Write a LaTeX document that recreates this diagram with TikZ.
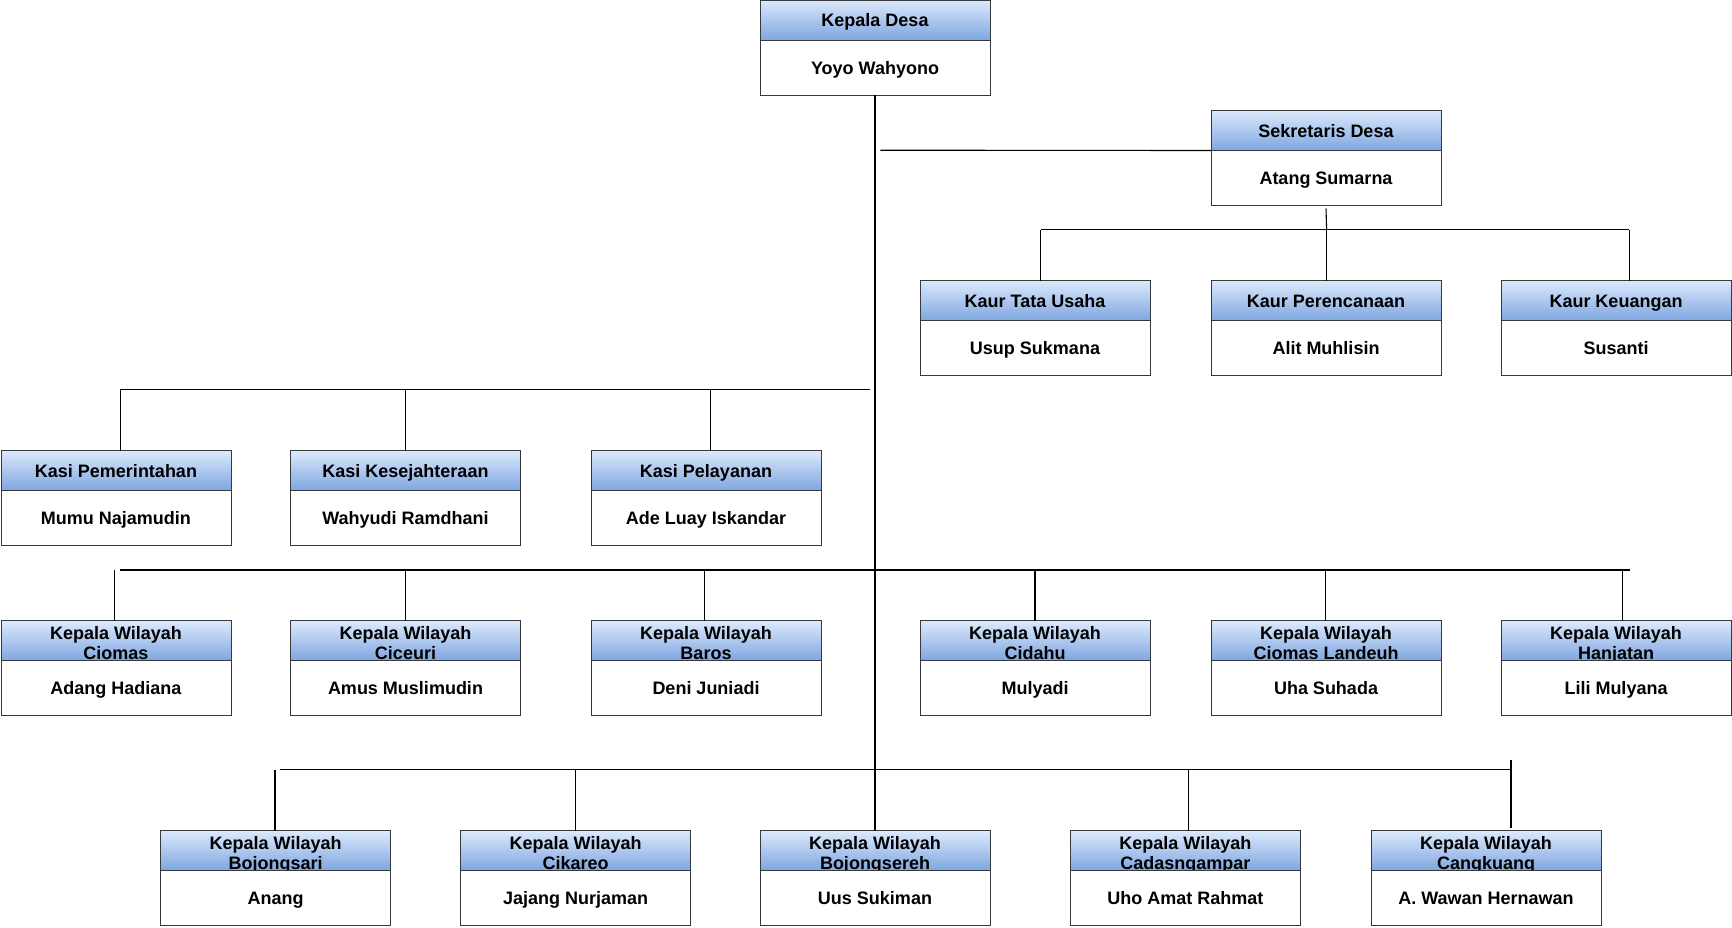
\documentclass[tikz,border=0pt]{standalone}
\usepackage{fontspec}
\setmainfont{Liberation Sans}
\definecolor{hdtop}{RGB}{220,233,252}
\definecolor{hdbot}{RGB}{126,166,224}
\definecolor{bordc}{RGB}{54,57,61}
\newcommand\orgfont{\bfseries\fontsize{18}{20}\selectfont}
\tikzset{
  hdr/.style={draw=bordc, line width=1pt, top color=hdtop, bottom color=hdbot,
    minimum width=230pt, minimum height=40pt, inner sep=0pt, outer sep=0pt,
    text height=13pt, text depth=0pt,
    anchor=north west, font=\orgfont},
  bodybox/.style={draw=bordc, line width=1pt, fill=white,
    minimum width=230pt, minimum height=55pt, inner sep=0pt, outer sep=0pt,
    text height=13pt, text depth=0pt,
    anchor=north west, font=\orgfont},
  hdtxt/.style={anchor=base, inner sep=0pt, font=\orgfont},
  conn/.style={line width=1.1pt, black}
}
% name, x, y, header, body
\newcommand\orgbox[5]{%
  \node[hdr] (#1h) at (#2,#3) {#4};
  \node[bodybox] (#1) at (#2,#3+40) {#5};
}
% name, x, y, header line 1, header line 2 (clipped), body
\newcommand\orgboxii[6]{%
  \node[hdr, path picture={
      \node[hdtxt] (#1ta) at ([yshift=-19pt]path picture bounding box.north) {#4};
      \node[hdtxt] (#1tb) at ([yshift=-38.6pt]path picture bounding box.north) {#5};
    }] (#1h) at (#2,#3) {};
  \node[bodybox] (#1) at (#2,#3+40) {#6};
}
\begin{document}
\begin{tikzpicture}[x=1pt,y=-1pt]
\useasboundingbox (0,0) rectangle (1732,927);
\fill[white] (0,0) rectangle (1732,927);

% ---- bus coordinates ----
\coordinate (sdL) at (880.4,150.2);
\coordinate (kaurL) at (1040.5,229.8);
\coordinate (kaurR) at (1629.3,229.8);
\coordinate (kaurM) at (1326.6,229.8);
\coordinate (kasiL) at (120.4,389.9);
\coordinate (kasiR) at (870.4,389.9);
\coordinate (kasiM) at (405.4,389.9);
\coordinate (kasiP) at (710.3,389.9);
\coordinate (w1L) at (120.4,570);
\coordinate (w1R) at (1630.4,570);
\coordinate (w1a) at (114.9,570);
\coordinate (w1b) at (405.4,570);
\coordinate (w1c) at (704.7,570);
\coordinate (w1d) at (1035,570);
\coordinate (w1e) at (1325.5,570);
\coordinate (w1f) at (1622.7,570);
\coordinate (w2L) at (279.5,769.9);
\coordinate (w2R) at (1511,769.9);
\coordinate (w2a) at (275,769.9);
\coordinate (w2b) at (575.5,769.9);
\coordinate (w2d) at (1188.5,769.9);
\coordinate (w2e) at (1511,760);

% ---- boxes ----
\orgbox{kd}{760}{0}{Kepala Desa}{Yoyo Wahyono}
\orgbox{sd}{1211}{110.5}{Sekretaris Desa}{Atang Sumarna}
\orgbox{kt}{920}{280.6}{Kaur Tata Usaha}{Usup Sukmana}
\orgbox{kp}{1211}{280.6}{Kaur Perencanaan}{Alit Muhlisin}
\orgbox{kk}{1501}{280.6}{Kaur Keuangan}{Susanti}
\orgbox{ksp}{1}{450.7}{Kasi Pemerintahan}{Mumu Najamudin}
\orgbox{ksk}{290.5}{450.7}{Kasi Kesejahteraan}{Wahyudi Ramdhani}
\orgbox{ksl}{591}{450.7}{Kasi Pelayanan}{Ade Luay Iskandar}
\orgboxii{wci}{1}{620.8}{Kepala Wilayah}{Ciomas}{Adang Hadiana}
\orgboxii{wce}{290.5}{620.8}{Kepala Wilayah}{Ciceuri}{Amus Muslimudin}
\orgboxii{wba}{591}{620.8}{Kepala Wilayah}{Baros}{Deni Juniadi}
\orgboxii{wcd}{920}{620.8}{Kepala Wilayah}{Cidahu}{Mulyadi}
\orgboxii{wcl}{1211}{620.8}{Kepala Wilayah}{Ciomas Landeuh}{Uha Suhada}
\orgboxii{wha}{1501}{620.8}{Kepala Wilayah}{Hanjatan}{Lili Mulyana}
\orgboxii{wbs}{160.6}{830.7}{Kepala Wilayah}{Bojongsari}{Anang}
\orgboxii{wck}{460.6}{830.7}{Kepala Wilayah}{Cikareo}{Jajang Nurjaman}
\orgboxii{wbj}{760}{830.7}{Kepala Wilayah}{Bojongsereh}{Uus Sukiman}
\orgboxii{wcg}{1070.4}{830.7}{Kepala Wilayah}{Cadasngampar}{Uho Amat Rahmat}
\orgboxii{wck2}{1371}{830.7}{Kepala Wilayah}{Cangkuang}{A. Wawan Hernawan}

% main trunk
\draw[conn] (kd.south) -- (wbjh.north);
% sekretaris
\draw[conn] (sdL) -- (sdh.south west);
\draw[conn] ([yshift=-3pt]sd.south) -- (kaurM);
\draw[conn] (kaurL) -- (kaurR);
\draw[conn] (kaurL) -- (kaurL |- kth.north);
\draw[conn] (kaurM) -- (kaurM |- kph.north);
\draw[conn] (kaurR) -- (kaurR |- kkh.north);
% kasi
\draw[conn] (kasiL) -- (kasiR);
\draw[conn] (kasiL) -- (kasiL |- ksph.north);
\draw[conn] (kasiM) -- (kasiM |- kskh.north);
\draw[conn] (kasiP) -- (kasiP |- kslh.north);
% wilayah row 1
\draw[conn] (w1L) -- (w1R);
\draw[conn] (w1a) -- (w1a |- wcih.north);
\draw[conn] (w1b) -- (w1b |- wceh.north);
\draw[conn] (w1c) -- (w1c |- wbah.north);
\draw[conn] (w1d) -- (w1d |- wcdh.north);
\draw[conn] (w1e) -- (w1e |- wclh.north);
\draw[conn] (w1f) -- (w1f |- whah.north);
% wilayah row 2
\draw[conn] (w2L) -- (w2R);
\draw[conn] (w2a) -- (w2a |- wbsh.north);
\draw[conn] (w2b) -- (w2b |- wckh.north);
\draw[conn] (w2d) -- (w2d |- wcgh.north);
\draw[conn] (w2e) -- ([yshift=3pt]w2e |- wck2h.north);
\end{tikzpicture}
\end{document}
